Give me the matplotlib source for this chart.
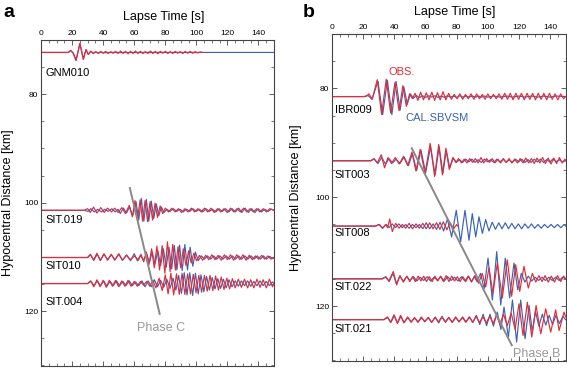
import matplotlib

matplotlib.use("Agg")
import matplotlib.pyplot as plt
import numpy as np
from matplotlib.ticker import AutoMinorLocator

plt.rcParams["font.family"] = ["Liberation Sans", "DejaVu Sans"]

RED = "#e62a35"
BLUE = "#3b62b5"

# Waveform extrema: (lapse time s, amplitude km, + = up)
# ---- panel a ----
GNM010_BASE = 72.3
GNM010_OBS = [(0, 0), (17.5, 0), (19.1, 0.35), (20.6, -0.1), (22.5, -1.5), (25.0, 1.7), (27.2, -1.3),
              (28.9, 0.55), (30.4, -0.4), (32.0, 0.25), (33.6, -0.2), (35.2, 0.15), (36.8, -0.2),
              (38.4, 0.2), (40.0, -0.15), (41.6, 0.2), (43.2, -0.2), (44.8, 0.15), (46.4, -0.15),
              (48.0, 0.2), (49.6, -0.2), (51.2, 0.25), (52.8, -0.2), (54.4, 0.2), (56.0, -0.25),
              (57.6, 0.2), (59.2, -0.2), (60.8, 0.25), (62.4, -0.2), (64.0, 0.2), (65.6, -0.2),
              (67.2, 0.15), (68.8, -0.2), (70.4, 0.25), (72.0, -0.2), (73.6, 0.2), (75.2, -0.25),
              (76.8, 0.2), (78.4, -0.15), (80.0, 0.2), (81.6, -0.2), (83.2, 0.15), (84.8, -0.2),
              (86.4, 0.2), (88.0, -0.15), (89.6, 0.15), (91.2, -0.2), (92.8, 0.2), (94.4, -0.15),
              (96.0, 0.2), (97.6, -0.15), (99.2, 0.15), (100.8, -0.1), (102.4, 0.1), (104.0, 0)]
GNM010_CAL = [(0, 0), (17.5, 0), (19.3, 0.3), (20.8, -0.1), (22.6, -1.4), (25.1, 1.6), (27.3, -1.2),
              (29.0, 0.5), (30.5, -0.35), (32.1, 0.2), (33.7, -0.15), (35.3, 0.1), (36.9, -0.1),
              (38.5, 0.08), (40.1, -0.05), (45, 0), (150, 0)]

SIT019_BASE = 101.4
SIT019_OBS = [(0, 0), (27.8, 0), (30.0, 0.3), (31.7, -0.4), (33.8, 0.6), (36.0, -0.5), (38.5, 0.5),
              (40.7, -0.4), (42.8, 0.4), (45.4, -0.3), (47.5, 0.4), (49.7, -0.4), (52.0, 0.5),
              (54.3, -0.6), (56.8, 0.9), (58.8, -1.2), (60.5, 1.8), (62.1, -1.7), (63.8, 1.9),
              (65.4, -2.0), (67.0, 1.8), (68.6, -2.1), (70.2, 1.6), (71.8, -1.8), (73.4, 1.3),
              (75.0, -1.3), (76.7, 0.8), (78.3, -0.6), (80.0, 0.4), (82.1, -0.3), (84.2, 0.4),
              (86.3, -0.3), (88.4, 0.3), (90.5, -0.4), (92.6, 0.3), (94.7, -0.3), (96.8, 0.4),
              (98.9, -0.3), (101.0, 0.3), (103.1, -0.3), (105.2, 0.4), (107.3, -0.3), (109.4, 0.4),
              (111.5, -0.4), (113.6, 0.3), (115.7, -0.3), (117.8, 0.3), (119.9, -0.4), (122.0, 0.4),
              (124.1, -0.3), (126.2, 0.3), (128.3, -0.3), (130.4, 0.4), (132.5, -0.3), (134.6, 0.3),
              (136.7, -0.3), (138.8, 0.3), (140.9, -0.3), (143.0, 0.3), (145.1, -0.3), (147.2, 0.3),
              (150, 0)]
SIT019_CAL = [(0, 0), (27.8, 0), (30.2, -0.2), (32.0, 0.3), (34.3, -0.3), (36.5, 0.2), (38.8, -0.3),
              (41.0, 0.2), (43.2, -0.2), (45.6, 0.3), (47.8, -0.3), (49.6, 0.2), (51.0, -0.6),
              (53.0, 0.4), (55.0, -0.5), (57.0, 0.6), (59.0, -1.0), (61.2, 1.6), (62.9, -1.8),
              (64.6, 2.2), (66.2, -2.0), (67.8, 2.0), (69.4, -2.0), (71.0, 1.7), (72.6, -1.5),
              (74.2, 1.2), (75.8, -1.0), (77.5, 0.6), (79.2, -0.4), (81.0, 0.2), (83.1, -0.2),
              (85.2, 0.3), (87.3, -0.2), (89.4, 0.2), (91.5, -0.3), (93.6, 0.2), (95.7, -0.2),
              (97.8, 0.3), (99.9, -0.2), (102.0, 0.2), (104.1, -0.3), (106.2, 0.3), (108.3, -0.2),
              (110.4, 0.2), (112.5, -0.3), (114.6, 0.3), (116.7, -0.2), (118.8, 0.3), (120.9, -0.3),
              (123.0, 0.3), (125.1, -0.3), (127.2, 0.4), (129.3, -0.4), (131.4, 0.4), (133.5, -0.4),
              (135.6, 0.3), (137.7, -0.4), (139.8, 0.3), (141.9, -0.3), (144.0, 0.2), (146.1, -0.2),
              (148.2, 0.2), (150, 0)]

SIT010_BASE = 110.1
SIT010_OBS = [(0, 0), (30.0, 0), (31.7, 0.6), (33.8, -0.5), (36.0, 0.8), (38.1, -0.6), (40.5, 0.7),
              (42.8, -0.5), (45.2, 0.6), (47.5, -0.5), (50.0, 0.7), (52.4, -0.5), (55.0, 0.4),
              (57.6, -0.4), (60.2, 0.3), (62.7, -0.5), (64.4, 0.6), (66.1, -0.8), (67.8, 1.0),
              (69.5, -1.3), (71.2, 1.6), (72.9, -1.9), (74.6, 2.1), (76.3, -2.3), (78.0, 2.2),
              (79.7, -2.9), (81.4, 2.9), (83.1, -2.6), (84.8, 2.4), (86.5, -2.3), (88.2, 2.0),
              (89.9, -1.9), (91.6, 1.6), (93.3, -1.5), (95.0, 1.2), (96.7, -1.0), (98.4, 0.8),
              (100.1, -0.6), (102.0, 0.4), (104.0, -0.5), (106.0, 0.4), (108.0, -0.4), (110.0, 0.5),
              (112.0, -0.4), (114.0, 0.4), (116.0, -0.5), (118.0, 0.5), (120.0, -0.4), (122.0, 0.5),
              (124.0, -0.5), (126.0, 0.5), (128.0, -0.4), (130.0, 0.5), (132.0, -0.5), (134.0, 0.4),
              (136.0, -0.4), (138.0, 0.3), (140.0, -0.3), (142.0, 0.4), (144.0, -0.3), (146.0, 0.3),
              (148.0, -0.3), (150, 0)]
SIT010_CAL = [(0, 0), (30.0, 0), (32.0, 0.5), (34.0, -0.5), (36.2, 0.6), (38.3, -0.5), (40.6, 0.6),
              (42.9, -0.4), (45.3, 0.5), (47.6, -0.4), (50.1, 0.6), (52.5, -0.5), (55.1, 0.5),
              (57.6, -0.6), (60.0, 0.7), (62.0, -0.6), (64.0, 0.4), (66.0, -0.5), (68.0, 0.7),
              (69.8, -0.9), (71.6, 1.0), (73.4, -1.2), (75.2, 1.3), (77.0, -1.5), (78.8, 1.6),
              (80.6, -1.8), (82.4, 1.9), (84.1, -2.1), (85.8, 2.2), (87.5, -2.3), (89.2, 2.3),
              (90.9, -2.4), (92.6, 2.4), (94.3, -2.3), (96.0, 1.9), (97.7, -1.6), (99.4, 1.0),
              (101.2, -0.6), (103.2, 0.3), (105.2, -0.3), (107.2, 0.3), (109.2, -0.3), (111.2, 0.3),
              (113.2, -0.3), (115.2, 0.3), (117.2, -0.3), (119.2, 0.3), (121.2, -0.3), (123.2, 0.3),
              (125.2, -0.3), (127.2, 0.3), (129.2, -0.3), (131.2, 0.3), (133.2, -0.3), (135.2, 0.3),
              (137.2, -0.3), (139.2, 0.3), (141.2, -0.3), (143.2, 0.3), (145.2, -0.3), (147.2, 0.2),
              (149.2, -0.2), (150, 0)]

SIT004_BASE = 114.9
SIT004_OBS = [(0, 0), (30, 0), (32.0, 0.5), (34.0, -0.6), (36.0, 0.7), (38.0, -0.6), (40.0, 0.6),
              (42.0, -0.7), (44.0, 0.6), (46.0, -0.5), (48.0, 0.6), (50.0, -0.6), (52.0, 0.5),
              (54.0, -0.5), (56.0, 0.6), (58.0, -0.5), (60.0, 0.4), (62.0, -0.5), (64.0, 0.4),
              (66.0, -0.3), (68.0, 0.4), (70.0, -0.5), (72.0, 0.6), (74.0, -0.8), (76.0, 1.0),
              (78.0, -1.3), (80.0, 1.6), (81.8, -1.9), (83.6, 1.9), (85.4, -2.1), (87.2, 1.8),
              (89.0, -2.0), (90.8, 1.9), (92.6, -2.0), (94.4, 1.8), (96.2, -1.9), (98.0, 1.7),
              (99.8, -1.7), (101.6, 1.5), (103.4, -1.6), (105.2, 1.5), (107.0, -1.4), (108.8, 1.5),
              (110.6, -1.3), (112.4, 1.4), (114.2, -1.2), (116.0, 1.2), (117.8, -1.1), (119.6, 1.0),
              (121.4, -1.0), (123.2, 0.9), (125.0, -0.8), (127.0, 0.8), (129.0, -0.7), (131.0, 0.8),
              (133.0, -0.8), (135.0, 0.7), (137.0, -0.8), (139.0, 0.8), (141.0, -0.7), (143.0, 0.7),
              (145.0, -0.8), (147.0, 0.8), (149.0, -0.6), (150, 0)]
SIT004_CAL = [(0, 0), (30, 0), (32.2, 0.4), (34.2, -0.4), (36.3, 0.5), (38.3, -0.4), (40.4, 0.5),
              (42.4, -0.5), (44.5, 0.4), (46.5, -0.4), (48.6, 0.5), (50.6, -0.4), (52.7, 0.4),
              (54.7, -0.4), (56.8, 0.5), (58.8, -0.4), (60.9, 0.3), (62.9, -0.4), (65.0, 0.5),
              (67.0, -0.6), (69.0, 0.5), (71.0, -0.6), (73.0, 0.7), (75.0, -0.6), (77.0, 0.6),
              (79.0, -0.7), (81.0, 0.8), (83.0, -0.9), (85.0, 1.0), (86.8, -1.2), (88.6, 1.5),
              (90.4, -1.8), (92.2, 2.0), (94.0, -2.1), (95.8, 2.0), (97.6, -2.2), (99.4, 1.9),
              (101.2, -1.9), (103.0, 1.6), (104.8, -1.5), (106.6, 1.3), (108.4, -1.2), (110.2, 1.1),
              (112.0, -1.0), (113.8, 0.9), (115.6, -0.9), (117.4, 0.8), (119.2, -0.8), (121.0, 0.7),
              (123.0, -0.6), (125.0, 0.5), (127.0, -0.5), (129.0, 0.5), (131.0, -0.4), (133.0, 0.5),
              (135.0, -0.5), (137.0, 0.4), (139.0, -0.4), (141.0, 0.5), (143.0, -0.4), (145.0, 0.4),
              (147.0, -0.4), (149.0, 0.3), (150, 0)]

# ---- panel b ----
IBR009_BASE = 81.5
IBR009_OBS = [(0, 0), (20.5, 0), (22.0, 0.1), (23.6, 0.5), (25.7, -0.5), (28.9, 3.1), (31.7, -3.3),
              (34.7, 3.2), (37.5, -3.0), (40.3, 2.6), (42.9, -2.6), (45.4, 2.0), (47.6, -1.8),
              (49.7, 0.5), (51.5, -0.4), (53.2, 0.6), (55.0, -0.7), (56.8, 0.8), (58.6, -0.6),
              (60.4, 0.7), (62.2, -0.6), (64.0, 0.8), (65.8, -0.7), (67.6, 0.7), (69.4, -0.6),
              (71.2, 0.9), (73.0, -0.6), (74.8, 0.6), (76.6, -0.5), (78.4, 0.4), (80.2, -0.4),
              (82.0, 0.5), (83.8, -0.5), (85.6, 0.4), (87.4, -0.4), (89.2, 0.5), (91.0, -0.5),
              (92.8, 0.5), (94.6, -0.4), (96.4, 0.4), (98.2, -0.5), (100.0, 0.5), (101.8, -0.4),
              (103.6, 0.4), (105.4, -0.4), (107.2, 0.5), (109.0, -0.5), (110.8, 0.6), (112.6, -0.5),
              (114.4, 0.6), (116.2, -0.6), (118.0, 0.6), (119.8, -0.5), (121.6, 0.6), (123.4, -0.6),
              (125.2, 0.6), (127.0, -0.5), (128.8, 0.6), (130.6, -0.6), (132.4, 0.6), (134.2, -0.5),
              (136.0, 0.6), (137.8, -0.6), (139.6, 0.6), (141.4, -0.5), (143.2, 0.5), (145.0, -0.6),
              (146.8, 0.5), (148.6, -0.4), (150, 0)]
IBR009_CAL = [(0, 0), (20.5, 0), (23.0, 0.2), (25.5, -0.5), (29.4, 2.8), (32.4, -3.3), (35.4, 3.0),
              (38.3, -3.3), (41.0, 2.8), (43.6, -2.5), (46.0, 1.8), (48.2, -1.4), (50.2, 0.5),
              (52.2, -0.3), (54.0, 0.2), (56.0, -0.2), (58.0, 0.15), (60.0, -0.15), (62.0, 0.15),
              (64.0, -0.1), (66.0, 0.15), (68.0, -0.15), (70.0, 0.1), (72.0, -0.15), (74.0, 0.15),
              (76.0, -0.1), (78.0, 0.1), (80.0, -0.15), (82.0, 0.15), (84.0, -0.1), (86.0, 0.1),
              (88.0, -0.1), (90.0, 0.1), (92.0, -0.1), (94.0, 0.1), (96.0, -0.1), (98.0, 0.1),
              (100.0, -0.1), (104.0, 0.1), (108.0, -0.1), (112.0, 0.1), (116.0, -0.1), (120.0, 0.1),
              (124.0, -0.1), (128.0, 0.1), (132.0, -0.1), (136.0, 0.1), (140.0, -0.1), (144.0, 0.1),
              (150, 0)]

SIT003_BASE = 93.3
SIT003_OBS = [(0, 0), (24.7, 0), (26.8, 0.4), (28.9, -0.4), (31.5, 1.1), (33.6, -1.3), (35.8, 0.6),
              (38.0, -0.5), (40.5, 0.6), (43.0, -0.6), (45.8, 0.8), (48.5, -0.9), (51.2, 1.6),
              (53.8, -1.9), (56.5, 2.1), (59.6, -2.4), (62.9, 3.2), (65.8, -2.9), (68.4, 3.0),
              (70.8, -2.6), (73.0, 2.3), (75.2, -1.6), (77.5, 0.6), (79.4, -0.3), (81.2, 0.4),
              (83.0, -0.4), (84.8, 0.3), (86.6, -0.4), (88.4, 0.4), (90.2, -0.3), (92.0, 0.4),
              (93.8, -0.4), (95.6, 0.6), (97.4, -0.4), (99.2, 0.4), (101.0, -0.3), (102.8, 0.4),
              (104.6, -0.4), (106.4, 0.3), (108.2, -0.4), (110.0, 0.4), (111.8, -0.3), (113.6, 0.4),
              (115.4, -0.4), (117.2, 0.3), (119.0, -0.4), (120.8, 0.4), (122.6, -0.4), (124.4, 0.5),
              (126.2, -0.4), (128.0, 0.4), (129.8, -0.5), (131.6, 0.5), (133.4, -0.4), (135.2, 0.6),
              (137.0, -0.5), (138.8, 0.5), (140.6, -0.6), (142.4, 0.5), (144.2, -0.5), (146.0, 0.6),
              (147.8, -0.4), (149.6, 0.3), (150, 0)]
SIT003_CAL = [(0, 0), (24.7, 0), (27.0, 0.3), (29.4, -0.5), (31.8, 0.6), (34.2, -0.6), (36.5, 0.4),
              (38.8, -0.4), (41.0, 0.3), (43.5, -0.5), (46.2, 0.7), (48.9, -0.9), (51.6, 1.3),
              (54.2, -1.8), (57.0, 2.0), (60.0, -2.2), (63.2, 2.6), (66.1, -2.6), (68.7, 2.6),
              (71.1, -2.3), (73.3, 1.9), (75.5, -1.3), (77.8, 0.5), (79.8, -0.3), (81.8, 0.2),
              (83.8, -0.3), (85.8, 0.3), (87.8, -0.2), (89.8, 0.3), (91.8, -0.3), (93.8, 0.2),
              (95.8, -0.3), (97.8, 0.3), (99.8, -0.2), (101.8, 0.2), (103.8, -0.3), (105.8, 0.3),
              (107.8, -0.2), (109.8, 0.3), (111.8, -0.3), (113.8, 0.2), (115.8, -0.3), (117.8, 0.3),
              (119.8, -0.2), (121.8, 0.3), (123.8, -0.3), (125.8, 0.2), (127.8, -0.3), (129.8, 0.3),
              (131.8, -0.2), (133.8, 0.3), (135.8, -0.3), (137.8, 0.2), (139.8, -0.2), (141.8, 0.3),
              (143.8, -0.2), (145.8, 0.2), (147.8, -0.2), (150, 0)]

SIT008_BASE = 105.3
SIT008_OBS = [(0, 0), (27.9, 0), (30.0, 0.3), (32.2, -0.4), (34.4, 0.3), (35.6, -0.3), (36.9, 1.3),
              (38.6, -1.0), (40.7, 0.5), (42.9, -0.4), (45.0, 0.3), (47.2, -0.4), (49.4, 0.5),
              (51.6, -0.5), (53.8, 0.4), (56.0, -0.4), (58.2, 0.5), (60.4, -0.5), (62.6, 0.6),
              (64.8, -0.5), (67.0, 0.6), (69.2, -0.6), (71.4, 0.8), (73.6, -0.7), (75.8, 0.6),
              (78.0, -0.5), (80.0, 0.3), (80.5, 0)]
SIT008_CAL = [(0, 0), (27.9, 0), (30.3, 0.3), (32.4, -0.4), (34.6, 0.3), (36.5, -0.3), (38.5, 0.4),
              (40.6, -0.3), (42.8, 0.4), (45.0, -0.3), (47.2, 0.3), (49.4, -0.4), (51.6, 0.3),
              (53.8, -0.3), (56.0, 0.3), (58.2, -0.5), (60.4, 0.6), (62.6, -0.5), (64.8, 0.4),
              (67.0, -0.6), (69.3, 0.7), (71.6, -0.9), (74.0, 1.3), (76.7, -2.0), (79.7, 2.9),
              (82.5, -2.9), (85.3, 2.9), (87.9, -2.6), (90.0, 2.3), (92.2, -2.0), (94.3, 1.7),
              (96.5, -1.35), (98.6, 1.2), (100.7, -0.9), (102.8, 0.7), (104.9, -0.6), (107.0, 0.6),
              (109.1, -0.5), (111.2, 0.6), (113.3, -0.5), (115.4, 0.5), (117.5, -0.5), (119.6, 0.4),
              (121.7, -0.5), (123.8, 0.4), (125.9, -0.4), (128.0, 0.4), (130.1, -0.4), (132.2, 0.3),
              (134.3, -0.4), (136.4, 0.3), (138.5, -0.3), (140.6, 0.3), (142.7, -0.3), (144.8, 0.3),
              (146.9, -0.3), (149.0, 0.3), (150, 0)]

SIT022_BASE = 115.0
SIT022_OBS = [(0, 0), (32.0, 0), (34.3, 0.3), (36.4, -0.4), (39.2, 1.35), (41.4, -1.1), (43.5, 0.6),
              (45.7, -0.6), (48.0, 0.5), (49.8, -0.5), (51.6, 0.4), (53.4, -0.5), (55.2, 0.5),
              (57.0, -0.4), (58.8, 0.5), (60.6, -0.5), (62.4, 0.4), (64.2, -0.5), (66.0, 0.5),
              (67.8, -0.4), (69.6, 0.5), (71.4, -0.5), (73.2, 0.6), (75.0, -0.5), (76.8, 0.5),
              (78.6, -0.4), (80.4, 0.4), (82.2, -0.5), (84.0, 0.4), (85.8, -0.5), (87.6, 0.5),
              (89.4, -0.6), (91.6, 0.6), (94.0, -0.8), (96.4, 1.0), (98.6, -1.5), (100.7, 2.0),
              (103.3, -2.6), (106.1, 2.9), (109.3, -3.5), (112.5, 3.5), (115.3, -3.2), (117.9, 2.6),
              (120.5, -2.3), (123.2, 2.3), (126.0, -1.7), (128.6, 1.0), (130.8, -0.6), (132.8, 0.6),
              (134.8, -0.5), (136.8, 0.6), (138.8, -0.6), (140.8, 0.5), (142.8, -0.6), (144.8, 0.6),
              (146.8, -0.5), (148.8, 0.5), (150, 0)]
SIT022_CAL = [(0, 0), (32.0, 0), (34.5, 0.4), (36.6, -0.5), (39.0, 1.0), (41.2, -0.9), (43.4, 0.5),
              (45.6, -0.4), (47.8, 0.4), (50.0, -0.3), (52.2, 0.4), (54.4, -0.4), (56.6, 0.3),
              (58.8, -0.3), (61.0, 0.4), (63.2, -0.4), (65.4, 0.3), (67.6, -0.3), (69.8, 0.4),
              (72.0, -0.4), (74.2, 0.4), (76.4, -0.3), (78.6, 0.3), (80.8, -0.4), (83.0, 0.4),
              (85.2, -0.4), (87.4, 0.5), (89.6, -0.5), (91.3, 0.4), (93.0, -0.5), (95.3, 1.0),
              (97.6, -1.8), (100.1, 3.8), (102.9, -3.9), (105.7, 5.0), (108.3, -4.8), (111.2, 3.8),
              (114.0, -3.5), (116.8, 2.9), (119.2, -2.0), (121.5, 1.0), (123.8, -0.6), (126.0, 0.5),
              (128.2, -0.4), (130.4, 0.3), (132.6, -0.3), (134.8, 0.3), (137.0, -0.3), (139.2, 0.3),
              (141.4, -0.3), (143.6, 0.3), (145.8, -0.3), (148.0, 0.3), (150, 0)]

SIT021_BASE = 122.5
SIT021_OBS = [(0, 0), (33.2, 0), (35.4, 0.5), (37.5, -0.5), (39.7, 0.9), (41.8, -0.7), (43.9, 0.8),
              (46.0, -0.6), (48.4, 0.5), (50.6, -0.5), (52.8, 0.4), (55.0, -0.5), (57.2, 0.5),
              (59.4, -0.4), (61.6, 0.4), (63.8, -0.5), (66.0, 0.4), (68.2, -0.4), (70.4, 0.5),
              (72.6, -0.4), (74.8, 0.4), (77.0, -0.5), (79.2, 0.5), (81.4, -0.4), (83.6, 0.4),
              (85.8, -0.5), (88.0, 0.5), (90.2, -0.5), (92.4, 0.6), (94.6, -0.5), (96.8, 0.5),
              (99.0, -0.6), (101.2, 0.6), (103.4, -0.7), (105.6, 0.8), (107.8, -0.9), (110.0, 1.0),
              (112.5, -1.1), (115.0, 1.2), (117.5, -1.8), (120.0, 2.9), (122.6, -2.9), (125.4, 3.2),
              (128.2, -3.2), (131.0, 2.6), (134.0, -2.6), (137.2, 2.0), (140.4, -2.3), (143.6, 1.8),
              (145.8, -2.0), (149.0, 1.4), (150, 0.5)]
SIT021_CAL = [(0, 0), (33.2, 0), (35.6, 0.4), (37.7, -0.5), (39.9, 0.7), (42.0, -0.6), (44.1, 0.6),
              (46.2, -0.5), (48.6, 0.4), (50.8, -0.4), (53.0, 0.3), (55.2, -0.4), (57.4, 0.3),
              (59.6, -0.3), (61.8, 0.4), (64.0, -0.5), (66.2, 0.5), (68.4, -0.6), (70.6, 0.6),
              (72.8, -0.5), (75.0, 0.4), (77.2, -0.5), (79.4, 0.4), (81.6, -0.4), (83.8, 0.5),
              (86.0, -0.4), (88.2, 0.5), (90.4, -0.5), (92.6, 0.8), (94.8, -0.9), (97.0, 1.0),
              (99.2, -1.1), (101.4, 1.0), (103.6, -1.2), (106.0, 1.4), (108.4, -1.8), (110.4, 2.3),
              (113.2, -3.2), (115.8, 3.6), (118.5, -4.1), (121.1, 3.6), (123.9, -3.5), (126.5, 2.6),
              (128.6, -2.3), (130.6, 1.5), (132.8, -1.2), (135.0, 1.0), (137.2, -1.0), (139.4, 0.8),
              (141.6, -0.9), (143.8, 0.8), (146.0, -0.7), (148.2, 0.6), (150, 0)]

# station name, baseline, label position (s, km)
PANEL_A = [("GNM010", GNM010_BASE, GNM010_OBS, GNM010_CAL, 76.1),
           ("SIT.019", SIT019_BASE, SIT019_OBS, SIT019_CAL, 103.2),
           ("SIT010", SIT010_BASE, SIT010_OBS, SIT010_CAL, 111.6),
           ("SIT.004", SIT004_BASE, SIT004_OBS, SIT004_CAL, 118.3)]
PANEL_B = [("IBR009", IBR009_BASE, IBR009_OBS, IBR009_CAL, 83.9),
           ("SIT003", SIT003_BASE, SIT003_OBS, SIT003_CAL, 95.9),
           ("SIT008", SIT008_BASE, SIT008_OBS, SIT008_CAL, 106.6),
           ("SIT.022", SIT022_BASE, SIT022_OBS, SIT022_CAL, 116.5),
           ("SIT.021", SIT021_BASE, SIT021_OBS, SIT021_CAL, 124.3)]

PHASE_C = ([57.2, 76.4], [97.3, 120.5])
PHASE_B = ([51.1, 115.4], [91.0, 127.2])


def draw_trace(ax, base, pts, color):
    t, a = zip(*pts)
    ax.plot(t, base - np.array(a), color=color, lw=0.85, solid_joinstyle="round")


def style(ax):
    ax.set_xlim(0, 150)
    ax.set_ylim(130.1, 70)
    ax.set_xticks(range(0, 150, 20))
    ax.set_yticks([80, 100, 120])
    ax.xaxis.set_minor_locator(AutoMinorLocator(4))
    ax.yaxis.set_minor_locator(AutoMinorLocator(4))
    ax.tick_params(which="both", direction="in", top=True, bottom=True, left=True, right=True,
                   labeltop=True, labelbottom=False, labelsize=6, colors="#444444",
                   labelcolor="black", pad=2)
    ax.tick_params(which="major", length=3.5, width=0.6)
    ax.tick_params(which="minor", length=2, width=0.5)
    for s in ax.spines.values():
        s.set_color("#444444")
        s.set_linewidth(0.8)
    ax.xaxis.set_label_position("top")
    ax.set_xlabel("Lapse Time [s]", fontsize=9)
    ax.set_ylabel("Hypocentral Distance [km]", fontsize=9)


fig = plt.figure(figsize=(5.67, 3.68), dpi=100)
ax_a = fig.add_axes([0.0723, 0.0054, 0.411, 0.886])
ax_b = fig.add_axes([0.586, 0.019, 0.4116, 0.8886])

for ax, rows, lab_t in ((ax_a, PANEL_A, 2.6), (ax_b, PANEL_B, 1.7)):
    style(ax)
    for name, base, obs, cal, ylab in rows:
        draw_trace(ax, base, cal, BLUE)
        draw_trace(ax, base, obs, RED)
        ax.text(lab_t, ylab, name, fontsize=8, ha="left", va="center")

ax_a.plot(*PHASE_C, color="#888888", lw=1.4)
ax_a.text(77, 123.1, "Phase C", color="#999999", fontsize=9, ha="center", va="center")
ax_b.plot(*PHASE_B, color="#888888", lw=1.4)
ax_b.text(131.6, 128.9, "Phase B", color="#999999", fontsize=9, ha="center", va="center")

ax_b.text(44.6, 76.9, "OBS.", color=RED, fontsize=8, ha="center", va="center")
ax_b.text(67.3, 85.4, "CAL.SBVSM", color=BLUE, fontsize=8, ha="center", va="center")

ax_a.xaxis.set_label_coords(0.527, 1.061)
ax_b.xaxis.set_label_coords(0.526, 1.058)
ax_a.yaxis.set_label_coords(-0.116, 0.5)
ax_b.yaxis.set_label_coords(-0.13, 0.5)

fig.text(0.006, 0.965, "a", fontsize=14, fontweight="bold", va="center")
fig.text(0.533, 0.965, "b", fontsize=14, fontweight="bold", va="center")

fig.savefig("out.png", dpi=100)
